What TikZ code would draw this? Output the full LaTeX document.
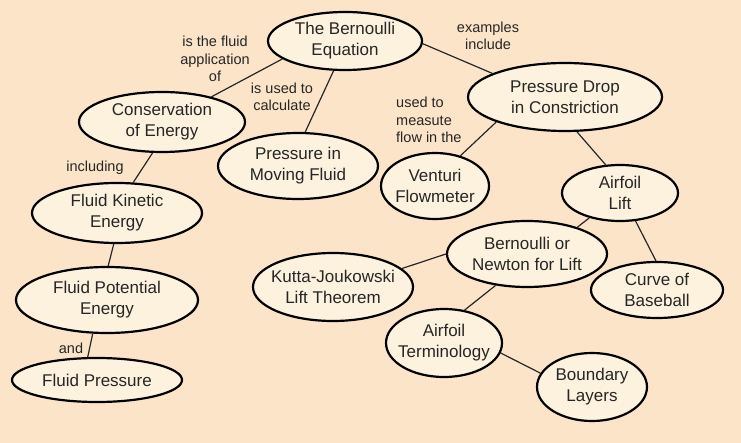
\documentclass[tikz,border=0pt]{standalone}
\usepackage{fontspec}
\setmainfont{Liberation Sans}
\usepackage{tikz}
\usetikzlibrary{shapes.geometric}

\definecolor{peach}{RGB}{252,228,201}
\definecolor{cream}{RGB}{253,242,221}
\definecolor{ink}{RGB}{38,38,38}

\begin{document}
\begin{tikzpicture}[x=1pt,y=-1pt,
  concept/.style={ellipse,draw=black,line width=2.2pt,fill=cream,text=ink,
    inner xsep=-30pt,inner ysep=-10pt,align=center,font=\fontsize{17}{21}\selectfont},
  linkword/.style={text=ink,inner sep=0pt,align=center,font=\fontsize{14.5}{17.5}\selectfont},
  link/.style={draw=ink,line width=1.2pt}]
  % Boundary
  \path[use as bounding box,fill=peach] (0,0) rectangle (741,443);
  % Concepts
  \node[concept,minimum width=154,minimum height=58] (bern) at (345,41) {The Bernoulli\\Equation};
  \node[concept,minimum width=166,minimum height=60] (cons) at (162,122) {Conservation\\of Energy};
  \node[concept,minimum width=160,minimum height=66] (pmf) at (298,166) {Pressure in\\Moving Fluid};
  \node[concept,minimum width=170,minimum height=60] (fke) at (117,213) {Fluid Kinetic\\Energy};
  \node[concept,minimum width=182,minimum height=66] (fpe) at (107,300) {Fluid Potential\\Energy};
  \node[concept,minimum width=170,minimum height=44] (fp) at (97,380) {Fluid Pressure};
  \node[concept,minimum width=194,minimum height=68] (pdrop) at (565,97) {Pressure Drop\\in Constriction};
  \node[concept,minimum width=108,minimum height=66] (vent) at (435,186) {Venturi\\Flowmeter};
  \node[concept,minimum width=116,minimum height=56] (lift) at (620,193) {Airfoil\\Lift};
  \node[concept,minimum width=160,minimum height=66] (bn) at (527,254) {Bernoulli or\\Newton for Lift};
  \node[concept,minimum width=160,minimum height=68] (kutta) at (333,287) {Kutta-Joukowski\\Lift Theorem};
  \node[concept,minimum width=132,minimum height=56] (curve) at (657,290) {Curve of\\Baseball};
  \node[concept,minimum width=116,minimum height=68] (term) at (444,343) {Airfoil\\Terminology};
  \node[concept,minimum width=110,minimum height=68] (bound) at (592,387) {Boundary\\Layers};
  % Linking words
  \node[linkword] (lfluid) at (215,59) {is the fluid\\application\\of};
  \node[linkword] (lcalc) at (282,97) {is used to\\calculate};
  \node[linkword] (lincl) at (95,168) {including};
  \node[linkword] (lex) at (488,36) {examples\\include};
  \node[linkword,align=left,anchor=west] (lused) at (396,120) {used to\\measute\\flow in the};
  \node[linkword] (land) at (71,348) {and};
  % Links
  \draw[link] (bern.196) -- (cons.27);
  \draw[link] (bern.249) -- (pmf.78);
  \draw[link] (bern.358) -- (pdrop.162);
  \draw[link] (cons.253) -- (fke.62);
  \draw[link] (fke.264) -- (fpe.88);
  \draw[link] (fpe.247) -- (fp.112);
  \draw[link] (pdrop.200) -- (vent.50);
  \draw[link] (pdrop.289) -- (lift.117);
  \draw[link] (lift.219) -- (bn.28);
  \draw[link] (lift.299) -- (curve.92);
  \draw[link] (bn.180) -- (kutta.15);
  \draw[link] (bn.225) -- (term.58);
  \draw[link] (term.350) -- (bound.165);
\end{tikzpicture}
\end{document}
